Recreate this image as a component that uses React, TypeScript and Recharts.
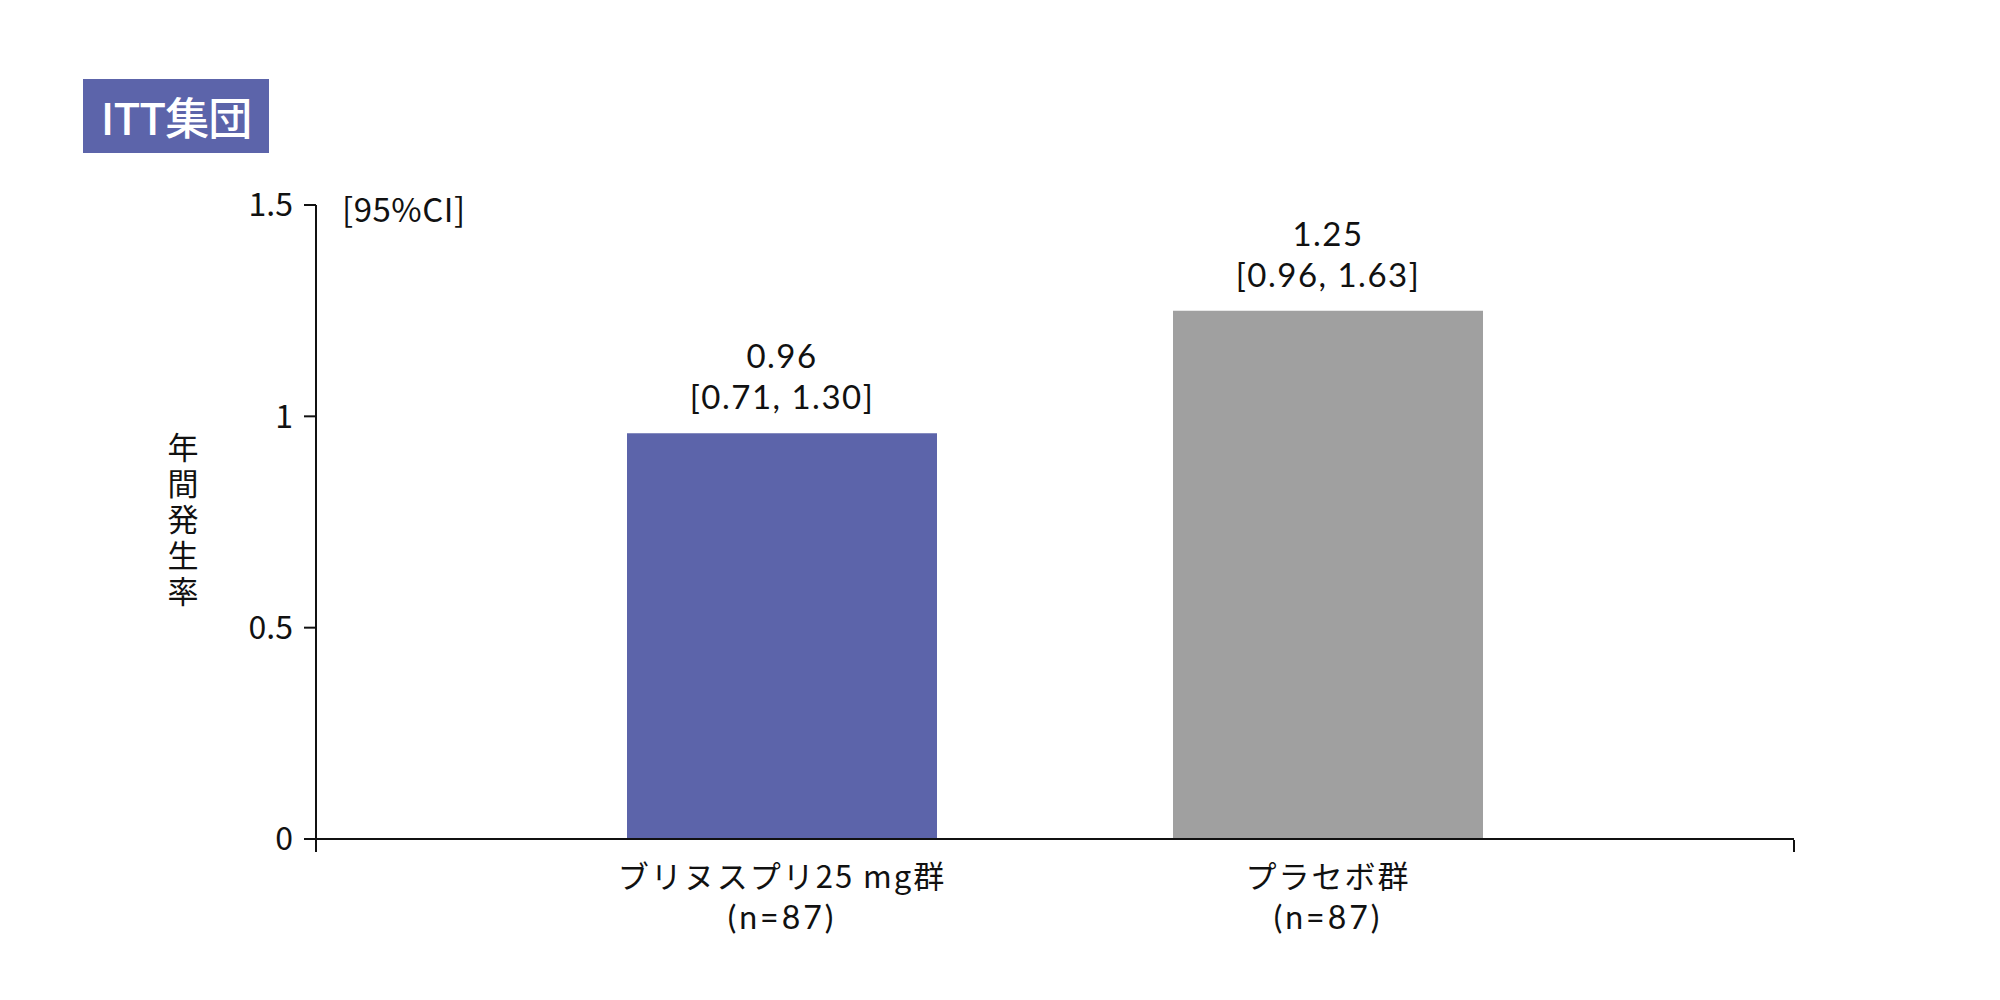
import React from 'react';
import { BarChart, Bar, XAxis, YAxis, Cell, LabelList } from 'recharts';

const groups = ['ブリヌスプリ25 mg群', 'プラセボ群'];
const groupN = ['(n=87)', '(n=87)'];
const rates = [0.96, 1.25];
const ciLow = ['0.71', '0.96'];
const ciHigh = ['1.30', '1.63'];
const rateLabels = ['0.96', '1.25'];
const yTicks = [0, 0.5, 1, 1.5];
const yLabel = '年間発生率';

const BLUE = '#5c64aa';
const GRAY = '#a0a0a0';
const FONT = '"Noto Sans CJK JP", "Noto Sans", sans-serif';
const NUM_FONT = 'Lato, "Noto Sans", sans-serif';

const barColors = [BLUE, GRAY];

const chartData = groups.map((g, i) => ({
  group: g,
  n: groupN[i],
  rate: rates[i],
  label: rateLabels[i],
  ci: `[${ciLow[i]}, ${ciHigh[i]}]`
}));

// two-line category label under the axis
const CategoryTick = (props: any) => {
  const { x, y, payload, index } = props;
  return (
    <text x={x} y={y + 35} textAnchor="middle" dominantBaseline="central" fontSize={31} fill="#111" fontFamily={FONT}>
      <tspan x={x} letterSpacing={2}>{payload.value}</tspan>
      <tspan x={x} dy={42} fontFamily={NUM_FONT} fontSize={32} letterSpacing={3}>{groupN[index]}</tspan>
    </text>
  );
};

// rate + 95% CI above each bar
const BarValueLabel = (props: any) => {
  const { x, y, width, index } = props;
  const cx = x + width / 2;
  const d = chartData[index];
  return (
    <text x={cx} y={y - 78} textAnchor="middle" dominantBaseline="central" fontSize={33} fill="#111" fontFamily={NUM_FONT} letterSpacing={1.5}>
      <tspan x={cx}>{d.label}</tspan>
      <tspan x={cx} dy={41}>{d.ci}</tspan>
    </text>
  );
};

const YLabel = (props: any) => {
  const { viewBox } = props;
  const cx = viewBox.x + 67;
  const cy = viewBox.y + viewBox.height / 2;
  return (
    <g>
      <text
        x={cx}
        y={cy}
        textAnchor="middle"
        fontSize={31}
        fill="#111"
        fontFamily={FONT}
        style={{ writingMode: 'vertical-rl', letterSpacing: 5 }}
      >
        {yLabel}
      </text>
      <text x={viewBox.x + viewBox.width + 26} y={viewBox.y + 3} dominantBaseline="central" fontSize={33} fill="#111" fontFamily={FONT} letterSpacing={0.5}>
        [95%CI]
      </text>
    </g>
  );
};

const App: React.FC = () => {
  return (
    <div style={{ position: 'absolute', left: 0, top: 0, width: 2000, height: 1000, background: '#fff' }}>
      <div
        style={{
          position: 'absolute',
          left: 83,
          top: 79,
          width: 186,
          height: 74,
          background: BLUE,
          color: '#fff',
          fontFamily: FONT,
          fontSize: 44,
          fontWeight: 500,
          display: 'flex',
          alignItems: 'center',
          justifyContent: 'center',
          letterSpacing: -1
        }}
      >
        ITT集団
      </div>
      <BarChart
        width={2000}
        height={1000}
        data={chartData}
        margin={{ top: 205, right: 206, bottom: 159, left: 116 }}
      >
        <XAxis
          dataKey="group"
          height={1}
          axisLine={{ stroke: '#111', strokeWidth: 2 }}
          tickLine={false}
          tickSize={0}
          tickMargin={0}
          padding={{ left: 193, right: 193 }}
          tick={<CategoryTick />}
          interval={0}
        />
        <XAxis
          xAxisId="frame"
          type="number"
          domain={[0, 1]}
          ticks={[0, 1]}
          height={1}
          axisLine={false}
          tickLine={{ stroke: '#111', strokeWidth: 2 }}
          tickSize={12}
          tickFormatter={() => ''}
          allowDataOverflow
        />
        <YAxis
          width={200}
          domain={[0, 1.5]}
          ticks={yTicks}
          axisLine={{ stroke: '#111', strokeWidth: 2 }}
          tickLine={{ stroke: '#111', strokeWidth: 2 }}
          tickSize={12}
          tickMargin={11}
          tick={{ fill: '#111', fontSize: 32, fontFamily: FONT }}
          label={{ content: <YLabel /> }}
        />
        <Bar dataKey="rate" barSize={310} isAnimationActive={false}>
          {chartData.map((d, i) => (
            <Cell key={d.group} fill={barColors[i]} />
          ))}
          <LabelList dataKey="rate" content={<BarValueLabel />} />
        </Bar>
      </BarChart>
    </div>
  );
};

export default App;
